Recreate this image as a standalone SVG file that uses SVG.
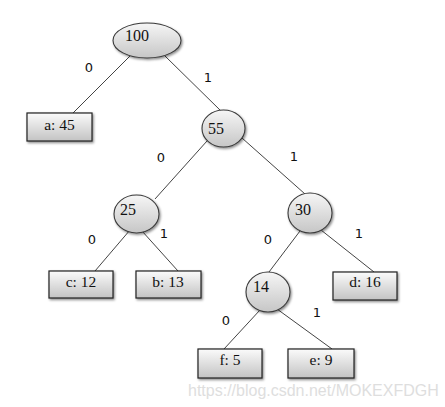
<svg xmlns="http://www.w3.org/2000/svg" width="445" height="407" viewBox="0 0 445 407">
<style>
.node ellipse{fill:url(#gE);stroke:#3a3a3a;stroke-width:1.1;filter:url(#sh)}
.node rect{fill:url(#gB);stroke:#222;stroke-width:1.2;filter:url(#sh)}
.nt{font-family:"Liberation Serif",serif;font-size:16px;fill:#111}
.bt{font-family:"Liberation Serif",serif;font-size:15.5px;fill:#111;text-anchor:middle}
.el{font-family:"DejaVu Sans","Noto Sans",sans-serif;font-size:13px;fill:#111;text-anchor:middle}
#edges line{stroke:#444;stroke-width:1}
.wm{font-family:"Liberation Sans",Arial,sans-serif;font-size:16px;fill:#dedede}
</style>
<defs>
<linearGradient id="gE" x1="0" y1="0" x2="0" y2="1"><stop offset="0" stop-color="#f6f6f6"/><stop offset="1" stop-color="#c6c6c6"/></linearGradient>
<linearGradient id="gB" x1="0" y1="0" x2="0" y2="1"><stop offset="0" stop-color="#fbfbfb"/><stop offset="1" stop-color="#c3c3c3"/></linearGradient>
<filter id="sh" x="-20%" y="-20%" width="150%" height="150%"><feDropShadow dx="1.2" dy="1.5" stdDeviation="0.8" flood-color="#000" flood-opacity="0.45"/></filter>
</defs>
<g id="edges">
<line x1="130" y1="56" x2="73" y2="113"/>
<line x1="165" y1="56" x2="221" y2="111"/>
<line x1="207" y1="141" x2="155" y2="199"/>
<line x1="242" y1="138" x2="305" y2="194"/>
<line x1="130" y1="230" x2="95" y2="271"/>
<line x1="142" y1="231" x2="178" y2="271"/>
<line x1="300" y1="231" x2="269" y2="272"/>
<line x1="321" y1="230" x2="374" y2="272"/>
<line x1="260" y1="310" x2="224" y2="349"/>
<line x1="277" y1="309" x2="332" y2="349"/>
</g>
<g id="edge-labels">
<text class="el" x="89" y="72">0</text>
<text class="el" x="208" y="82">1</text>
<text class="el" x="161" y="162">0</text>
<text class="el" x="294" y="161">1</text>
<text class="el" x="92" y="244">0</text>
<text class="el" x="164" y="238">1</text>
<text class="el" x="268" y="244">0</text>
<text class="el" x="359" y="238">1</text>
<text class="el" x="226" y="325">0</text>
<text class="el" x="317" y="317">1</text>
</g>
<g id="n100" class="node"><ellipse cx="147" cy="40.5" rx="34" ry="17.5"/><text class="nt" x="125" y="41">100</text></g>
<g id="n55" class="node"><ellipse cx="223.5" cy="128.5" rx="21.5" ry="18.5"/><text class="nt" x="208" y="134">55</text></g>
<g id="n25" class="node"><ellipse cx="136.5" cy="214" rx="22.5" ry="19"/><text class="nt" x="120" y="215">25</text></g>
<g id="n30" class="node"><ellipse cx="310" cy="213" rx="22" ry="20"/><text class="nt" x="295" y="215">30</text></g>
<g id="n14" class="node"><ellipse cx="268" cy="292" rx="22" ry="20"/><text class="nt" x="253" y="292">14</text></g>
<g id="a45" class="node"><rect x="27" y="113" width="65" height="28"/><text class="bt" x="59.5" y="129.5">a: 45</text></g>
<g id="c12" class="node"><rect x="49" y="271" width="64" height="27"/><text class="bt" x="81" y="287">c: 12</text></g>
<g id="b13" class="node"><rect x="136" y="271" width="65" height="27"/><text class="bt" x="168" y="287">b: 13</text></g>
<g id="d16" class="node"><rect x="333" y="272" width="64" height="28"/><text class="bt" x="365" y="287">d: 16</text></g>
<g id="f5" class="node"><rect x="198" y="349" width="64" height="29"/><text class="bt" x="230" y="365">f: 5</text></g>
<g id="e9" class="node"><rect x="288" y="349" width="66" height="29"/><text class="bt" x="321" y="365">e: 9</text></g>
<text class="wm" x="188" y="396">https://blog.csdn.net/MOKEXFDGH</text>
</svg>
